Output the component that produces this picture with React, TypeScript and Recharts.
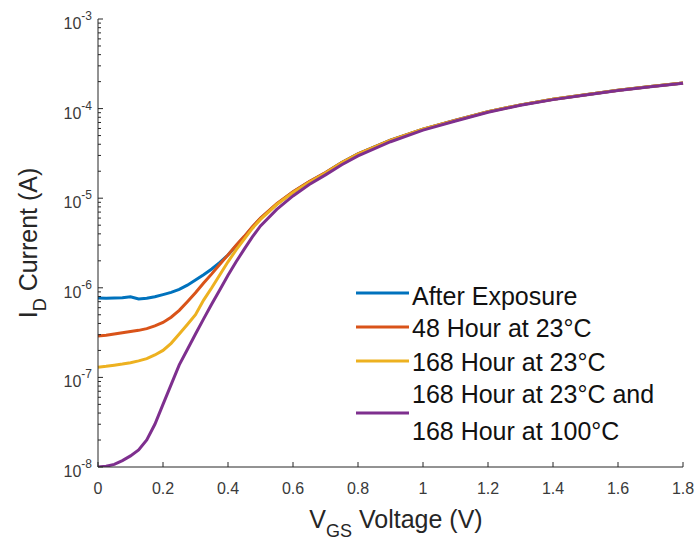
import React from "react";
import { LineChart, Line, XAxis, YAxis, Legend } from "recharts";

// Gate voltage sweep (V)
const voltage = [
  0, 0.025, 0.05, 0.075, 0.1, 0.125, 0.15, 0.175, 0.2, 0.225, 0.25, 0.275, 0.3,
  0.325, 0.35, 0.375, 0.4, 0.425, 0.45, 0.475, 0.5, 0.55, 0.6, 0.65, 0.7, 0.75,
  0.8, 0.9, 1.0, 1.1, 1.2, 1.3, 1.4, 1.5, 1.6, 1.7, 1.8,
];

// Drain current (A) for each condition
const afterExposure = [
  7.7e-7, 7.65e-7, 7.7e-7, 7.75e-7, 7.95e-7, 7.5e-7, 7.65e-7, 7.95e-7, 8.4e-7,
  8.9e-7, 9.6e-7, 1.07e-6, 1.22e-6, 1.4e-6, 1.62e-6, 1.92e-6, 2.32e-6, 2.95e-6,
  3.7e-6, 4.75e-6, 5.95e-6, 8.6e-6, 1.17e-5, 1.52e-5, 1.92e-5, 2.5e-5, 3.12e-5,
  4.45e-5, 5.9e-5, 7.4e-5, 9.25e-5, 1.1e-4, 1.27e-4, 1.43e-4, 1.6e-4, 1.76e-4,
  1.93e-4,
];
const hour48at23 = [
  2.9e-7, 2.95e-7, 3.05e-7, 3.15e-7, 3.25e-7, 3.35e-7, 3.5e-7, 3.75e-7, 4.1e-7,
  4.7e-7, 5.6e-7, 7.0e-7, 8.8e-7, 1.13e-6, 1.43e-6, 1.83e-6, 2.33e-6, 2.98e-6,
  3.75e-6, 4.8e-6, 6.0e-6, 8.7e-6, 1.18e-5, 1.53e-5, 1.93e-5, 2.5e-5, 3.13e-5,
  4.45e-5, 5.9e-5, 7.4e-5, 9.25e-5, 1.1e-4, 1.27e-4, 1.43e-4, 1.6e-4, 1.76e-4,
  1.93e-4,
];
const hour168at23 = [
  1.3e-7, 1.33e-7, 1.37e-7, 1.41e-7, 1.46e-7, 1.53e-7, 1.62e-7, 1.78e-7, 2.0e-7,
  2.4e-7, 3.05e-7, 3.9e-7, 5.0e-7, 7.3e-7, 1.0e-6, 1.4e-6, 1.95e-6, 2.65e-6,
  3.5e-6, 4.6e-6, 5.8e-6, 8.5e-6, 1.16e-5, 1.51e-5, 1.91e-5, 2.48e-5, 3.1e-5,
  4.42e-5, 5.88e-5, 7.38e-5, 9.22e-5, 1.1e-4, 1.27e-4, 1.43e-4, 1.6e-4, 1.76e-4,
  1.93e-4,
];
const hour168at23And100 = [
  1.0e-8, 1.02e-8, 1.07e-8, 1.18e-8, 1.33e-8, 1.55e-8, 2.0e-8, 3.0e-8, 5.0e-8,
  8.3e-8, 1.38e-7, 2.05e-7, 3.05e-7, 4.5e-7, 6.6e-7, 9.5e-7, 1.38e-6, 1.95e-6,
  2.7e-6, 3.7e-6, 4.9e-6, 7.5e-6, 1.06e-5, 1.42e-5, 1.82e-5, 2.36e-5, 2.97e-5,
  4.27e-5, 5.75e-5, 7.28e-5, 9.12e-5, 1.09e-4, 1.26e-4, 1.42e-4, 1.59e-4, 1.75e-4,
  1.92e-4,
];

const seriesNames = [
  "After Exposure",
  "48 Hour at 23°C",
  "168 Hour at 23°C",
  "168 Hour at 23°C and\n168 Hour at 100°C",
];
const seriesColors = ["#0072BD", "#D95319", "#EDB120", "#7E2F8E"];
const seriesKeys = ["s0", "s1", "s2", "s3"];

const xTicks = [0, 0.2, 0.4, 0.6, 0.8, 1, 1.2, 1.4, 1.6, 1.8];
const xTickLabels = ["0", "0.2", "0.4", "0.6", "0.8", "1", "1.2", "1.4", "1.6", "1.8"];
const yDecades = [-8, -7, -6, -5, -4, -3];

const data = voltage.map((v, i) => ({
  v,
  s0: afterExposure[i],
  s1: hour48at23[i],
  s2: hour168at23[i],
  s3: hour168at23And100[i],
}));

// Major ticks at each decade, minor ticks at 2..9 within each decade
const yTicks: number[] = [];
yDecades.forEach((d, idx) => {
  yTicks.push(Math.pow(10, d));
  if (idx < yDecades.length - 1) {
    for (let k = 2; k <= 9; k++) yTicks.push(k * Math.pow(10, d));
  }
});

const AXIS = "#262626";
const FONT = "'Liberation Sans', Arial, Helvetica, sans-serif";

const YTick = (props: any) => {
  const { x, y, payload } = props;
  const val = payload.value as number;
  const exp = Math.round(Math.log10(val));
  const isMajor = Math.abs(val - Math.pow(10, exp)) / val < 1e-6;
  return (
    <g>
      <line x1={x} x2={x + (isMajor ? 5 : 3)} y1={y} y2={y} stroke={AXIS} strokeWidth={1} />
      {isMajor && (
        <text
          x={x - 6}
          y={y + 10}
          textAnchor="end"
          fill="#3a3a3a"
          fontFamily={FONT}
          fontSize={16}
        >
          <tspan>10</tspan>
          <tspan dy={-9} fontSize={12}>{`-${Math.abs(exp)}`}</tspan>
        </text>
      )}
    </g>
  );
};

const XTick = (props: any) => {
  const { x, y, payload } = props;
  const idx = xTicks.findIndex((t) => Math.abs(t - payload.value) < 1e-9);
  return (
    <g>
      <line x1={x} x2={x} y1={y} y2={y - 5} stroke={AXIS} strokeWidth={1} />
      <text
        x={x}
        y={y + 27}
        textAnchor="middle"
        fill="#3a3a3a"
        fontFamily={FONT}
        fontSize={16}
      >
        {idx >= 0 ? xTickLabels[idx] : String(payload.value)}
      </text>
    </g>
  );
};

const LegendBox = (props: any) => {
  const payload = ((props.payload || []) as any[])
    .slice()
    .sort((a, b) => seriesNames.indexOf(a.value) - seriesNames.indexOf(b.value));
  const rows = [
    { line: 23, texts: [35] },
    { line: 57, texts: [67] },
    { line: 91, texts: [101] },
    { line: 143, texts: [133, 170] },
  ];
  return (
    <svg width={340} height={180} style={{ display: "block", overflow: "visible" }}>
      {payload.map((p, i) => {
        const name = String(p.value).split("\n");
        const r = rows[i];
        return (
          <g key={i}>
            <line x1={6} x2={59} y1={r.line} y2={r.line} stroke={p.color} strokeWidth={3} />
            {name.map((t, j) => (
              <text
                key={j}
                x={62}
                y={r.texts[j]}
                fontFamily={FONT}
                fontSize={25}
                fill="#111"
              >
                {t}
              </text>
            ))}
          </g>
        );
      })}
    </svg>
  );
};

export default function App() {
  return (
    <div style={{ position: "absolute", left: 0, top: 0, width: 697, height: 540, background: "#fff" }}>
      <LineChart
        width={697}
        height={540}
        data={data}
        margin={{ top: 19, right: 14, bottom: 0, left: 0 }}
      >
        <XAxis
          dataKey="v"
          type="number"
          domain={[0, 1.8]}
          ticks={xTicks}
          interval={0}
          tickLine={false}
          tickSize={0}
          tickMargin={0}
          tick={<XTick />}
          axisLine={{ stroke: AXIS, strokeWidth: 1 }}
          height={73}
        />
        <YAxis
          type="number"
          scale="log"
          domain={[1e-8, 1e-3]}
          allowDataOverflow
          ticks={yTicks}
          interval={0}
          tickLine={false}
          tickSize={0}
          tickMargin={0}
          tick={<YTick />}
          axisLine={{ stroke: AXIS, strokeWidth: 1 }}
          width={98}
        />
        <Legend
          layout="horizontal"
          verticalAlign="middle"
          align="center"
          content={<LegendBox />}
          wrapperStyle={{ position: "absolute", left: 350, top: 270, width: 340, height: 180 }}
        />
        {seriesKeys.map((k, i) => (
          <Line
            key={k}
            dataKey={k}
            name={seriesNames[i]}
            stroke={seriesColors[i]}
            strokeWidth={3}
            dot={false}
            type="linear"
            isAnimationActive={false}
          />
        ))}
      </LineChart>
      <svg
        width={697}
        height={540}
        style={{ position: "absolute", left: 0, top: 0, pointerEvents: "none" }}
      >
        <text
          transform="rotate(-90, 37, 243)"
          x={37}
          y={243}
          textAnchor="middle"
          fontFamily={FONT}
          fontSize={25}
          fill="#262626"
        >
          <tspan>I</tspan>
          <tspan dy={9} fontSize={18}>D</tspan>
          <tspan dy={-9}> Current (A)</tspan>
        </text>
        <text
          x={396}
          y={528}
          textAnchor="middle"
          fontFamily={FONT}
          fontSize={25}
          fill="#262626"
        >
          <tspan>V</tspan>
          <tspan dy={9} fontSize={18}>GS</tspan>
          <tspan dy={-9}> Voltage (V)</tspan>
        </text>
      </svg>
    </div>
  );
}
